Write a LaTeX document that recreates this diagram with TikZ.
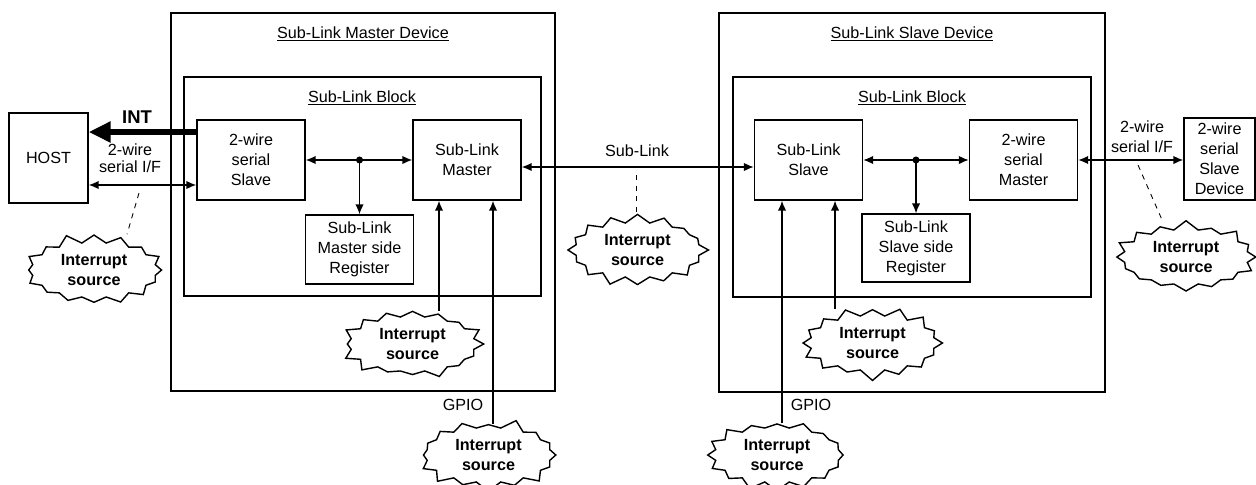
\documentclass[tikz,border=0pt]{standalone}
\usepackage{fontspec}
\setmainfont{Liberation Sans}
\usetikzlibrary{arrows.meta,shapes.symbols}

\begin{document}
\begin{tikzpicture}[x=0.02cm,y=-0.02cm,
  font=\fontsize{9.2}{11.4}\selectfont,
  devbox/.style={draw,line width=0.8pt,inner sep=0pt},
  unit/.style={draw,line width=0.8pt,align=center,inner sep=0pt,
    minimum width=2.16cm,minimum height=1.6cm},
  burst/.style={starburst,draw,line width=0.8pt,fill=white,align=center,
    font=\fontsize{9.2}{11.4}\selectfont\bfseries,
    starburst points=16,starburst point height=0.2cm,
    random starburst=#1,minimum width=2.9cm,minimum height=1.5cm,
    inner sep=0pt},
  burst/.default=7,
  link/.style={line width=0.8pt,-{Latex[length=2mm,width=1.7mm]}},
  bilink/.style={line width=0.8pt,
    {Latex[length=2mm,width=1.7mm]}-{Latex[length=2mm,width=1.7mm]}},
  hint/.style={dashed,line width=0.5pt}]
 \useasboundingbox (0,0) rectangle (1256,484);
 % master device
 \node[devbox,minimum width=7.68cm,minimum height=7.56cm] (mdev) at (363,202) {};
 \node[devbox,minimum width=7.14cm,minimum height=4.38cm] (mblk) at (362.5,186.5) {};
 \node (mdevt) at (363,34) {\underline{Sub-Link Master Device}};
 \node (mblkt) at (362,98) {\underline{Sub-Link Block}};
 \node[unit] (hifs) at (251,160) {2-wire\\serial\\Slave};
 \node[unit] (slm) at (467,160) {Sub-Link\\Master};
 \node[unit,minimum height=1.38cm] (mreg) at (359.5,249.5)
   {Sub-Link\\Master side\\Register};
 \node[draw,line width=0.8pt,minimum width=1.58cm,minimum height=1.8cm]
   (host) at (48.5,158) {HOST};
 % slave device
 \node[devbox,minimum width=7.72cm,minimum height=7.58cm] (sdev) at (912,202.5) {};
 \node[devbox,minimum width=7.16cm,minimum height=4.4cm] (sblk) at (912,187) {};
 \node (sdevt) at (912,34) {\underline{Sub-Link Slave Device}};
 \node (sblkt) at (912,98) {\underline{Sub-Link Block}};
 \node[unit] (sls) at (808.5,160) {Sub-Link\\Slave};
 \node[unit] (twm) at (1023.5,160) {2-wire\\serial\\Master};
 \node[unit,minimum height=1.36cm] (sreg) at (916,248)
   {Sub-Link\\Slave side\\Register};
 \node[unit,minimum width=1.42cm,minimum height=1.64cm]
   (tsd) at (1219.5,159) {2-wire\\serial\\Slave\\Device};
 % interrupt sources
 \node[burst=11] (irqh) at (94,270) {Interrupt\\source};
 \node[burst=12] (irqm) at (412.5,344) {Interrupt\\source};
 \node[burst=13] (irqmg) at (488.5,455) {Interrupt\\source};
 \node[burst=14] (irql) at (637.5,250) {Interrupt\\source};
 \node[burst=15] (irqs) at (872.5,343) {Interrupt\\source};
 \node[burst=16] (irqsg) at (777,455) {Interrupt\\source};
 \node[burst=17] (irqt) at (1186,257) {Interrupt\\source};
 % master side links
 \coordinate (mbus) at (mreg.north |- hifs.east);
 \draw[bilink] (hifs.east) -- (slm.west);
 \fill (mbus) circle[radius=2pt];
 \draw[link] (mbus) -- (mreg.north);
 \draw[link] ([xshift=0.53cm]irqm.north) -- ([xshift=0.53cm]irqm.north |- slm.south);
 \draw[link] ([xshift=0.09cm]irqmg.north) -- ([xshift=0.09cm]irqmg.north |- slm.south);
 \node (gpiom) at (463,405) {GPIO};
 % host
 \draw[line width=3.4pt,-{Triangle[length=4.4mm,width=4mm]}]
   ([yshift=0.56cm]hifs.west) -- ([yshift=0.56cm]hifs.west -| host.east);
 \node[font=\fontsize{10.5}{12}\selectfont\bfseries] (intl) at (137,117) {INT};
 \draw[bilink] ([yshift=-0.5cm]hifs.west) -- ([yshift=-0.5cm]hifs.west -| host.east);
 \node[align=center] (hifl) at (130,158) {2-wire\\[-2pt]serial I/F};
 \coordinate (hifd) at (139,193);
 \draw[hint] (hifd) -- ([xshift=0.66cm]irqh.north);
 % sub-link
 \draw[bilink] ([yshift=-0.14cm]slm.east) -- ([yshift=-0.14cm]slm.east -| sls.west);
 \node (sll) at (637,151) {Sub-Link};
 \coordinate (sld) at (636,175);
 \draw[hint] (sld) -- (sld |- irql.north);
 % slave side links
 \coordinate (sbus) at (sreg.north |- sls.east);
 \draw[bilink] (sls.east) -- (twm.west);
 \fill (sbus) circle[radius=2pt];
 \draw[link] (sbus) -- (sreg.north);
 \draw[link] ([xshift=-0.75cm]irqs.north) -- ([xshift=-0.75cm]irqs.north |- sls.south);
 \draw[link] ([xshift=0.1cm]irqsg.north) -- ([xshift=0.1cm]irqsg.north |- sls.south);
 \node (gpios) at (811,405) {GPIO};
 % 2-wire slave device
 \draw[bilink] (twm.east) -- (twm.east -| tsd.west);
 \node[align=center] (tifl) at (1142,137) {2-wire\\serial I/F};
 \coordinate (tifd) at (1138,165);
 \draw[hint] (tifd) -- ([xshift=-0.48cm]irqt.north);
\end{tikzpicture}
\end{document}
